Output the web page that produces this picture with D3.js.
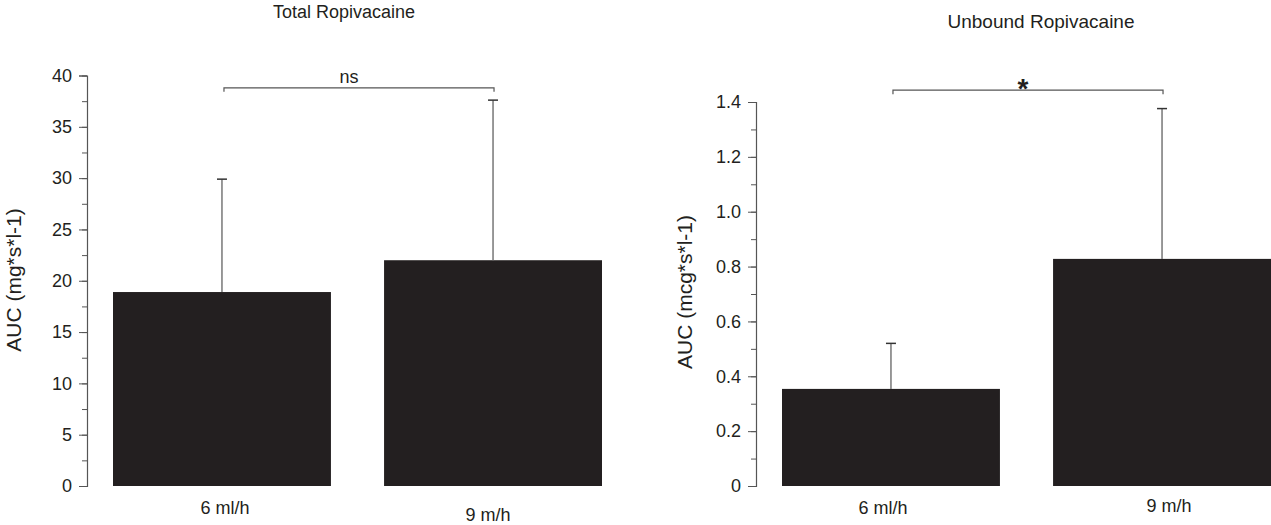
<!DOCTYPE html>
<html>
<head>
<meta charset="utf-8">
<script src="https://cdn.jsdelivr.net/npm/d3@7"></script>
<style>
  body { margin: 0; background: #fff; }
  svg { display: block; font-family: "Liberation Sans", Arial, sans-serif; }
</style>
</head>
<body>
<div id="chart"></div>
<script>
// data
var groups = ["6 ml/h", "9 m/h"];
var totalMeans = [18.9, 22.0];
var totalSD = [11.0, 15.6];
var unboundMeans = [0.354, 0.828];
var unboundSD = [0.166, 0.548];
var totalTicks = [0, 5, 10, 15, 20, 25, 30, 35, 40];
var unboundTicks = [0, 0.2, 0.4, 0.6, 0.8, 1.0, 1.2, 1.4];

var width = 1271, height = 525;
var svg = d3.select("#chart").append("svg")
    .attr("width", width)
    .attr("height", height);

var ink = "#231f20";

function panel(opt) {
  var g = svg.append("g").attr("transform", "translate(" + opt.x0 + ",0)");

  var y = d3.scaleLinear().domain(opt.domain).range([486, opt.top]);
  var x = d3.scaleBand().domain(groups).range([26, 515]).paddingInner(0.196).paddingOuter(0);

  // minor ticks
  var minor = d3.range(opt.domain[0], opt.domain[1] + opt.minorStep / 2, opt.minorStep);
  g.append("g")
    .call(d3.axisLeft(y).tickValues(minor).tickSize(5).tickFormat(""))
    .call(function(s) { s.select(".domain").remove(); })
    .selectAll("line").attr("stroke", "#555");

  var ax = g.append("g")
    .call(d3.axisLeft(y).tickValues(opt.ticks).tickSize(8).tickPadding(7).tickSizeOuter(8).tickFormat(opt.format));
  ax.select(".domain").attr("stroke", "#555").attr("stroke-width", 1.2);
  ax.selectAll("line").attr("stroke", "#555");
  ax.selectAll("text").attr("fill", ink).style("font-size", "18px");

  // bars
  g.selectAll("rect.bar")
    .data(opt.means)
    .enter().append("rect")
    .attr("class", "bar")
    .attr("x", function(d, i) { return x(groups[i]); })
    .attr("y", function(d) { return y(d); })
    .attr("width", x.bandwidth())
    .attr("height", function(d) { return y(0) - y(d); })
    .attr("fill", ink);

  // error bars
  opt.means.forEach(function(m, i) {
    var cx = x(groups[i]) + x.bandwidth() / 2;
    g.append("line")
      .attr("x1", cx).attr("x2", cx)
      .attr("y1", y(m)).attr("y2", y(m + opt.sd[i]))
      .attr("stroke", "#777").attr("stroke-width", 1.5);
    g.append("line")
      .attr("x1", cx - 5).attr("x2", cx + 5)
      .attr("y1", y(m + opt.sd[i])).attr("y2", y(m + opt.sd[i]))
      .attr("stroke", "#333").attr("stroke-width", 1.5);
  });

  // x labels
  g.selectAll("text.xl")
    .data(groups)
    .enter().append("text")
    .attr("class", "xl")
    .attr("x", function(d, i) { return x(d) + x.bandwidth() / 2 + opt.labDx[i]; })
    .attr("y", function(d, i) { return opt.labY[i]; })
    .attr("text-anchor", "middle")
    .attr("fill", ink)
    .style("font-size", "18px")
    .text(function(d) { return d; });

  // bracket
  var bx1 = x(groups[0]) + x.bandwidth() / 2 + 2;
  var bx2 = x(groups[1]) + x.bandwidth() / 2 + 1;
  var by = y(opt.bracket);
  g.append("path")
    .attr("d", "M" + bx1 + "," + (by + 4) + "V" + by + "H" + bx2 + "V" + (by + 4))
    .attr("fill", "none")
    .attr("stroke", "#555")
    .attr("stroke-width", 1.2);
  g.append("text")
    .attr("x", (bx1 + bx2) / 2 + opt.sigDx)
    .attr("y", by - opt.sigOff)
    .attr("text-anchor", "middle")
    .attr("fill", ink)
    .style("font-size", opt.sigSize)
    .style("font-weight", opt.sigWeight)
    .text(opt.sig);

  // title
  g.append("text")
    .attr("x", opt.titleX)
    .attr("y", opt.titleY)
    .attr("text-anchor", "middle")
    .attr("fill", ink)
    .style("font-size", opt.titleSize)
    .text(opt.title);

  // y label
  g.append("text")
    .attr("transform", "translate(" + opt.ylabX + "," + opt.ylabY + ") rotate(-90)")
    .attr("text-anchor", "middle")
    .attr("fill", ink)
    .style("font-size", "21px")
    .text(opt.ylab);
}

panel({
  x0: 87, domain: [0, 40], top: 75.5, ticks: totalTicks, minorStep: 2.5,
  format: d3.format("d"), means: totalMeans, sd: totalSD,
  bracket: 38.8, sig: "ns", sigOff: 5, sigSize: "18px", sigWeight: "normal", sigDx: -10,
  title: "Total Ropivacaine", titleX: 257, titleY: 18, titleSize: "18px",
  ylab: "AUC (mg*s*l-1)", ylabX: -66, ylabY: 280,
  labDx: [3, -5], labY: [514, 521]
});

panel({
  x0: 756, domain: [0, 1.4], top: 102, ticks: unboundTicks, minorStep: 0.1,
  format: function(d) { return d === 0 ? "0" : d3.format(".1f")(d); },
  means: unboundMeans, sd: unboundSD,
  bracket: 1.443, sig: "*", sigOff: -8, sigSize: "28px", sigWeight: "bold", sigDx: -5,
  title: "Unbound Ropivacaine", titleX: 285, titleY: 28, titleSize: "19px",
  ylab: "AUC (mcg*s*l-1)", ylabX: -64, ylabY: 292,
  labDx: [-8, 7], labY: [514, 512]
});
</script>
</body>
</html>
